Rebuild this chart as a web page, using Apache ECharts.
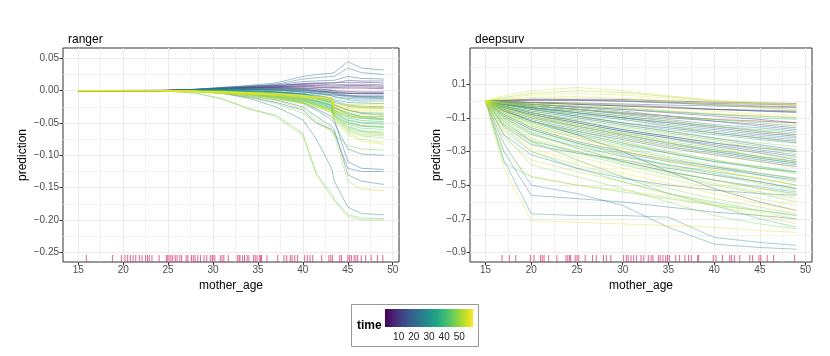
<!DOCTYPE html>
<html>
<head>
<meta charset="utf-8">
<script src="https://cdn.jsdelivr.net/npm/echarts@6/dist/echarts.min.js"></script>
<style>
  html, body { margin: 0; padding: 0; background: #fff; }
  #chart { width: 830px; height: 356px; }
</style>
</head>
<body>
<div id="chart"></div>
<script>
// grid of mother_age values where the ICE curves were evaluated
var rangerAge = [15, 24, 28, 31, 34, 37, 40, 41.5, 43.2, 43.5, 45, 46.5, 49];
var deepsurvAge = [15, 17, 20, 25, 30, 35, 40, 45, 49];

// each row: [time, prediction at each age above]
var rangerCurves = [
  [3, 0, 0, 0.002, 0.004, 0.005, 0.006, 0.008, 0.008, 0.007, 0.007, 0.008, 0.008, 0.007],
  [4, 0, 0, 0.001, 0.003, 0.004, 0.005, 0.006, 0.005, 0.004, 0.004, 0.004, 0.004, 0.003],
  [5, 0, 0, 0.001, 0.002, 0.003, 0.003, 0.002, 0.0, -0.002, -0.003, -0.004, -0.004, -0.004],
  [6, 0, 0, 0.001, 0.003, 0.004, 0.004, 0.004, 0.003, 0.001, 0.0, -0.001, -0.002, -0.002],
  [8, 0, 0, 0.002, 0.004, 0.006, 0.008, 0.011, 0.012, 0.012, 0.012, 0.013, 0.013, 0.012],
  [9, 0, 0, 0.001, 0.003, 0.005, 0.006, 0.007, 0.006, 0.005, 0.005, 0.006, 0.006, 0.005],
  [10, 0, 0, 0.001, 0.002, 0.002, 0.002, 0.001, -0.001, -0.002, -0.003, -0.004, -0.004, -0.004],
  [12, 0, 0.001, 0.002, 0.005, 0.007, 0.008, 0.01, 0.01, 0.009, 0.009, 0.01, 0.01, 0.009],
  [14, 0, 0, 0.001, 0.002, 0.002, 0.001, -0.002, -0.004, -0.006, -0.007, -0.008, -0.009, -0.009],
  [15, 0, 0, 0.001, 0.003, 0.005, 0.007, 0.01, 0.011, 0.012, 0.012, 0.016, 0.015, 0.015],
  [16, 0, 0, 0.001, 0.004, 0.005, 0.005, 0.004, 0.002, 0.0, -0.001, -0.004, -0.005, -0.005],
  [18, 0, 0, 0.001, 0.003, 0.006, 0.009, 0.014, 0.015, 0.016, 0.016, 0.022, 0.019, 0.018],
  [19, 0, 0, 0.001, 0.003, 0.004, 0.004, 0.003, 0.0, -0.003, -0.004, -0.007, -0.008, -0.008],
  [20, 0, 0, 0.001, 0.002, 0.002, 0.001, 0.0, -0.002, -0.004, -0.005, -0.008, -0.01, -0.011],
  [20, 0, 0, 0, -0.002, -0.005, -0.01, -0.018, -0.028, -0.04, -0.045, -0.11, -0.12, -0.122],
  [22, 0, 0, 0.002, 0.005, 0.008, 0.012, 0.022, 0.025, 0.027, 0.028, 0.045, 0.035, 0.032],
  [22, 0, 0, -0.001, -0.004, -0.01, -0.018, -0.03, -0.05, -0.06, -0.065, -0.12, -0.125, -0.125],
  [24, 0, 0, 0.002, 0.004, 0.007, 0.01, 0.018, 0.02, 0.022, 0.022, 0.035, 0.028, 0.025],
  [24, 0, 0, -0.001, -0.003, -0.008, -0.014, -0.025, -0.04, -0.055, -0.06, -0.13, -0.14, -0.145],
  [25, 0, 0, 0.0, 0.0, -0.001, -0.002, -0.005, -0.01, -0.015, -0.022, -0.03, -0.035, -0.038],
  [26, 0, 0, 0.001, 0.002, 0.001, 0.0, -0.002, -0.005, -0.007, -0.009, -0.012, -0.013, -0.013],
  [26, 0, 0, -0.001, -0.004, -0.012, -0.025, -0.045, -0.075, -0.12, -0.14, -0.18, -0.19, -0.192],
  [27, 0, 0, 0.001, 0.002, 0.002, 0.001, -0.001, -0.004, -0.008, -0.01, -0.014, -0.016, -0.016],
  [28, 0, 0, 0.001, 0.001, 0.0, -0.002, -0.004, -0.007, -0.011, -0.014, -0.018, -0.019, -0.02],
  [28, 0, 0, 0, -0.002, -0.006, -0.012, -0.02, -0.03, -0.045, -0.05, -0.09, -0.098, -0.1],
  [30, 0, 0, 0.0, 0.001, 0.0, -0.002, -0.005, -0.009, -0.013, -0.018, -0.024, -0.026, -0.027],
  [31, 0, 0, 0.001, 0.003, 0.004, 0.003, 0.001, -0.002, -0.004, -0.006, -0.01, -0.011, -0.012],
  [32, 0, 0, 0.0, 0.0, -0.001, -0.003, -0.006, -0.011, -0.015, -0.022, -0.03, -0.034, -0.035],
  [33, 0, 0, 0, 0.001, 0.0, -0.002, -0.005, -0.008, -0.012, -0.016, -0.022, -0.024, -0.025],
  [34, 0, 0, 0.0, 0.0, -0.001, -0.003, -0.007, -0.012, -0.017, -0.025, -0.036, -0.04, -0.04],
  [36, 0, 0, 0.0, 0.0, -0.002, -0.004, -0.009, -0.013, -0.019, -0.027, -0.034, -0.04, -0.043],
  [37, 0, 0, 0, 0, -0.001, -0.003, -0.008, -0.012, -0.018, -0.026, -0.038, -0.042, -0.044],
  [38, 0, 0, 0.0, -0.001, -0.002, -0.005, -0.01, -0.015, -0.022, -0.03, -0.042, -0.046, -0.048],
  [39, 0, 0, -0.001, -0.002, -0.003, -0.006, -0.011, -0.016, -0.023, -0.032, -0.048, -0.054, -0.056],
  [40, 0, 0, 0.0, -0.001, -0.003, -0.006, -0.012, -0.017, -0.024, -0.034, -0.046, -0.05, -0.052],
  [41, 0, 0, 0, -0.001, -0.003, -0.006, -0.012, -0.016, -0.022, -0.03, -0.04, -0.043, -0.045],
  [42, 0, 0, -0.001, -0.002, -0.004, -0.008, -0.014, -0.019, -0.026, -0.036, -0.05, -0.055, -0.057],
  [43, 0, 0, 0, -0.001, -0.003, -0.007, -0.013, -0.018, -0.025, -0.033, -0.045, -0.049, -0.05],
  [44, 0, 0, -0.001, -0.002, -0.004, -0.008, -0.015, -0.021, -0.028, -0.038, -0.052, -0.058, -0.06],
  [45, 0, 0, -0.004, -0.013, -0.028, -0.038, -0.066, -0.128, -0.16, -0.168, -0.192, -0.197, -0.198],
  [45, 0, 0, -0.001, -0.002, -0.004, -0.008, -0.014, -0.02, -0.027, -0.036, -0.056, -0.063, -0.066],
  [46, 0, 0, -0.001, -0.003, -0.005, -0.009, -0.016, -0.022, -0.03, -0.04, -0.055, -0.062, -0.064],
  [47, 0, 0, -0.001, -0.004, -0.01, -0.02, -0.035, -0.05, -0.062, -0.068, -0.085, -0.09, -0.092],
  [48, 0, 0, -0.001, -0.003, -0.006, -0.01, -0.017, -0.023, -0.031, -0.042, -0.058, -0.065, -0.068],
  [49, 0, 0, -0.001, -0.003, -0.005, -0.009, -0.015, -0.021, -0.029, -0.039, -0.062, -0.07, -0.073],
  [50, 0, 0, -0.001, -0.003, -0.006, -0.011, -0.018, -0.024, -0.032, -0.043, -0.06, -0.068, -0.07],
  [50, 0, 0, -0.003, -0.012, -0.028, -0.04, -0.07, -0.13, -0.165, -0.17, -0.195, -0.2, -0.2],
  [51, 0, 0, -0.001, -0.003, -0.006, -0.01, -0.016, -0.022, -0.03, -0.04, -0.05, -0.054, -0.055],
  [52, 0, 0, -0.002, -0.004, -0.007, -0.012, -0.019, -0.025, -0.033, -0.045, -0.065, -0.075, -0.08],
  [52, 0, 0, -0.001, -0.004, -0.01, -0.015, -0.028, -0.045, -0.06, -0.07, -0.14, -0.152, -0.155],
  [53, 0, 0, -0.001, -0.002, -0.004, -0.008, -0.012, -0.015, -0.02, -0.03, -0.04, -0.042, -0.043],
  [54, 0, 0, -0.002, -0.004, -0.007, -0.012, -0.02, -0.026, -0.034, -0.046, -0.068, -0.078, -0.083],
  [55, 0, 0, -0.001, -0.003, -0.005, -0.007, -0.01, -0.012, -0.014, -0.032, -0.036, -0.037, -0.037],
  [56, 0, 0, -0.001, -0.002, -0.004, -0.006, -0.009, -0.011, -0.013, -0.03, -0.033, -0.033, -0.033],
  [56, 0, 0, 0, -0.001, -0.003, -0.005, -0.008, -0.01, -0.012, -0.02, -0.022, -0.021, -0.02],
  [57, 0, 0, -0.001, -0.002, -0.003, -0.005, -0.008, -0.01, -0.012, -0.026, -0.028, -0.028, -0.027],
  [57, 0, 0, -0.001, -0.002, -0.004, -0.006, -0.009, -0.011, -0.013, -0.028, -0.031, -0.03, -0.03],
  [58, 0, 0, -0.001, -0.002, -0.003, -0.004, -0.007, -0.009, -0.011, -0.022, -0.024, -0.024, -0.023],
  [58, 0, 0, -0.001, -0.003, -0.005, -0.007, -0.011, -0.013, -0.015, -0.034, -0.039, -0.04, -0.04],
  [59, 0, 0, -0.001, -0.002, -0.003, -0.005, -0.008, -0.01, -0.012, -0.024, -0.026, -0.026, -0.025]
];

var deepsurvCurves = [
  [2, 0, -0.005, -0.01, -0.02, -0.03, -0.04, -0.05, -0.06, -0.065],
  [3, 0, 0.005, 0.01, 0.01, 0.008, 0.0, -0.008, -0.012, -0.015],
  [5, 0, -0.01, -0.03, -0.05, -0.07, -0.09, -0.11, -0.12, -0.13],
  [6, 0, 0.0, 0.005, 0.005, 0.0, -0.008, -0.015, -0.02, -0.025],
  [7, 0, -0.02, -0.05, -0.09, -0.13, -0.16, -0.19, -0.22, -0.24],
  [8, 0, -0.01, -0.02, -0.035, -0.05, -0.07, -0.09, -0.11, -0.13],
  [9, 0, -0.02, -0.04, -0.07, -0.1, -0.13, -0.16, -0.19, -0.21],
  [10, 0, 0.002, 0.005, 0.003, -0.002, -0.012, -0.022, -0.03, -0.035],
  [11, 0, -0.005, -0.01, -0.02, -0.03, -0.04, -0.05, -0.055, -0.06],
  [12, 0, -0.015, -0.03, -0.05, -0.075, -0.1, -0.12, -0.14, -0.16],
  [12, 0, -0.03, -0.07, -0.12, -0.17, -0.21, -0.25, -0.28, -0.3],
  [13, 0, -0.003, -0.008, -0.012, -0.018, -0.025, -0.03, -0.035, -0.04],
  [14, 0, -0.04, -0.09, -0.15, -0.2, -0.25, -0.29, -0.33, -0.36],
  [15, 0, -0.04, -0.08, -0.13, -0.18, -0.22, -0.26, -0.3, -0.33],
  [16, 0, -0.02, -0.04, -0.06, -0.09, -0.12, -0.15, -0.18, -0.2],
  [17, 0, -0.06, -0.12, -0.18, -0.23, -0.28, -0.32, -0.36, -0.39],
  [18, 0, -0.03, -0.06, -0.1, -0.14, -0.18, -0.22, -0.26, -0.29],
  [18, 0, -0.05, -0.12, -0.2, -0.3, -0.42, -0.52, -0.6, -0.65],
  [19, 0, -0.08, -0.16, -0.24, -0.3, -0.35, -0.39, -0.43, -0.46],
  [20, 0, -0.005, -0.01, -0.015, -0.025, -0.035, -0.05, -0.06, -0.07],
  [20, 0, -0.15, -0.26, -0.31, -0.35, -0.4, -0.44, -0.48, -0.52],
  [21, 0, -0.01, -0.02, -0.04, -0.06, -0.09, -0.12, -0.15, -0.17],
  [22, 0, -0.06, -0.11, -0.17, -0.22, -0.27, -0.31, -0.35, -0.38],
  [22, 0, -0.3, -0.56, -0.58, -0.6, -0.63, -0.66, -0.68, -0.7],
  [23, 0, -0.04, -0.08, -0.13, -0.18, -0.22, -0.27, -0.31, -0.35],
  [24, 0, -0.2, -0.32, -0.4, -0.46, -0.5, -0.53, -0.55, -0.56],
  [25, 0, -0.02, -0.04, -0.07, -0.1, -0.14, -0.17, -0.2, -0.22],
  [26, 0, -0.09, -0.17, -0.25, -0.31, -0.36, -0.4, -0.44, -0.47],
  [27, 0, -0.015, -0.03, -0.05, -0.08, -0.11, -0.14, -0.16, -0.18],
  [28, 0, -0.035, -0.07, -0.12, -0.17, -0.21, -0.25, -0.29, -0.32],
  [28, 0, -0.25, -0.5, -0.55, -0.62, -0.75, -0.85, -0.87, -0.88],
  [29, 0, -0.05, -0.1, -0.16, -0.21, -0.26, -0.3, -0.34, -0.37],
  [30, 0, -0.01, -0.02, -0.035, -0.05, -0.065, -0.08, -0.09, -0.1],
  [30, 0, -0.35, -0.67, -0.68, -0.68, -0.69, -0.81, -0.84, -0.857],
  [31, 0, -0.02, -0.045, -0.08, -0.11, -0.15, -0.18, -0.21, -0.23],
  [32, 0, -0.07, -0.13, -0.2, -0.26, -0.31, -0.36, -0.4, -0.42],
  [33, 0, -0.1, -0.19, -0.28, -0.36, -0.42, -0.47, -0.51, -0.54],
  [34, 0, -0.06, -0.12, -0.19, -0.25, -0.31, -0.36, -0.39, -0.42],
  [35, 0, -0.025, -0.05, -0.09, -0.13, -0.17, -0.2, -0.23, -0.25],
  [35, 0, -0.14, -0.24, -0.3, -0.36, -0.42, -0.47, -0.52, -0.55],
  [36, 0, -0.11, -0.2, -0.27, -0.33, -0.38, -0.42, -0.46, -0.5],
  [37, 0, -0.01, -0.03, -0.05, -0.07, -0.09, -0.11, -0.13, -0.15],
  [38, 0, -0.05, -0.1, -0.15, -0.2, -0.25, -0.3, -0.34, -0.37],
  [39, 0, -0.03, -0.07, -0.11, -0.15, -0.19, -0.23, -0.27, -0.3],
  [40, 0, -0.02, -0.04, -0.07, -0.1, -0.13, -0.15, -0.17, -0.19],
  [40, 0, -0.12, -0.24, -0.35, -0.45, -0.55, -0.62, -0.7, -0.75],
  [41, 0, -0.09, -0.17, -0.25, -0.32, -0.38, -0.43, -0.48, -0.52],
  [42, 0, -0.08, -0.15, -0.22, -0.28, -0.34, -0.39, -0.44, -0.48],
  [43, 0, -0.01, -0.02, -0.03, -0.04, -0.06, -0.08, -0.1, -0.11],
  [44, 0, -0.04, -0.08, -0.14, -0.19, -0.24, -0.28, -0.33, -0.36],
  [44, 0, -0.16, -0.3, -0.4, -0.48, -0.55, -0.6, -0.65, -0.68],
  [45, 0, 0.0, 0.005, 0.005, 0.0, -0.01, -0.025, -0.04, -0.05],
  [45, 0, -0.37, -0.45, -0.5, -0.54, -0.58, -0.62, -0.65, -0.68],
  [46, 0, -0.06, -0.12, -0.18, -0.24, -0.3, -0.35, -0.4, -0.43],
  [47, 0, -0.02, -0.05, -0.08, -0.11, -0.15, -0.19, -0.22, -0.25],
  [47, 0, -0.13, -0.23, -0.31, -0.38, -0.44, -0.5, -0.55, -0.6],
  [48, 0, -0.03, -0.06, -0.1, -0.14, -0.18, -0.22, -0.25, -0.27],
  [48, 0, -0.2, -0.38, -0.45, -0.52, -0.6, -0.68, -0.73, -0.76],
  [49, 0, -0.1, -0.18, -0.26, -0.33, -0.39, -0.44, -0.49, -0.53],
  [49, 0, -0.045, -0.09, -0.14, -0.19, -0.23, -0.27, -0.31, -0.34],
  [50, 0, 0.02, 0.045, 0.06, 0.05, 0.025, 0.0, -0.015, -0.025],
  [50, 0, -0.18, -0.3, -0.38, -0.45, -0.52, -0.58, -0.63, -0.67],
  [51, 0, -0.07, -0.14, -0.21, -0.27, -0.33, -0.38, -0.43, -0.46],
  [51, 0, -0.015, -0.03, -0.06, -0.09, -0.12, -0.15, -0.18, -0.2],
  [52, 0, -0.12, -0.22, -0.3, -0.37, -0.43, -0.49, -0.54, -0.58],
  [52, 0, -0.06, -0.12, -0.19, -0.25, -0.3, -0.35, -0.39, -0.43],
  [53, 0, -0.03, -0.07, -0.12, -0.16, -0.2, -0.24, -0.28, -0.31],
  [53, 0, -0.22, -0.35, -0.42, -0.48, -0.55, -0.61, -0.66, -0.7],
  [54, 0, -0.08, -0.16, -0.24, -0.3, -0.36, -0.41, -0.46, -0.5],
  [54, 0, 0.01, 0.02, 0.025, 0.015, 0.0, -0.02, -0.04, -0.06],
  [55, 0, 0.03, 0.06, 0.08, 0.06, 0.03, 0.005, -0.01, -0.02],
  [55, 0, -0.14, -0.25, -0.33, -0.4, -0.46, -0.52, -0.58, -0.62],
  [55, 0, -0.3, -0.45, -0.5, -0.53, -0.57, -0.62, -0.68, -0.73],
  [56, 0, -0.01, -0.02, -0.03, -0.045, -0.06, -0.075, -0.09, -0.1],
  [56, 0, -0.05, -0.1, -0.16, -0.22, -0.27, -0.32, -0.36, -0.4],
  [56, 0, -0.4, -0.71, -0.72, -0.73, -0.74, -0.75, -0.77, -0.78],
  [57, 0, 0.015, 0.035, 0.045, 0.035, 0.015, -0.005, -0.02, -0.03],
  [57, 0, -0.1, -0.2, -0.28, -0.35, -0.41, -0.47, -0.52, -0.56],
  [57, 0, -0.04, -0.09, -0.15, -0.2, -0.25, -0.29, -0.33, -0.36],
  [58, 0, -0.015, -0.03, -0.05, -0.07, -0.09, -0.11, -0.125, -0.14],
  [58, 0, -0.16, -0.28, -0.36, -0.43, -0.49, -0.55, -0.61, -0.65],
  [58, 0, -0.005, -0.01, -0.015, -0.025, -0.04, -0.06, -0.08, -0.09],
  [59, 0, -0.07, -0.14, -0.22, -0.29, -0.35, -0.41, -0.46, -0.5]
];

// observed mother_age values (rug)
var rangerRug = [15.9, 18.8, 19.8, 20.2, 20.5, 20.8, 21.1, 21.4, 21.8, 22.1, 22.5, 22.7, 22.9, 23.2, 24.0,
  24.8, 24.9, 25.1, 25.3, 25.5, 25.8, 26.0, 26.3, 26.5, 27.0, 27.2, 27.6, 27.8, 28.0, 28.3, 28.6, 29.0,
  29.3, 29.7, 29.9, 30.0, 30.2, 30.8, 31.0, 31.2, 31.7, 32.7, 32.9, 33.0, 33.3, 33.5, 33.8, 34.0, 34.5,
  34.7, 34.9, 35.2, 35.3, 35.4, 36.0, 37.2, 37.9, 38.2, 38.6, 38.8, 39.1, 39.4, 40.2, 40.5, 40.8, 41.1,
  42.1, 42.9, 43.1, 43.3, 44.1, 44.3, 45.0, 45.2, 45.4, 45.7, 45.9, 46.1, 46.5, 47.0, 47.6, 48.3, 48.9];
var deepsurvRug = [16.8, 17.6, 18.3, 19.9, 20.3, 21.0, 21.2, 21.4, 21.9, 22.8, 23.8, 24.0, 24.2, 24.3, 24.8,
  25.0, 25.2, 25.9, 26.7, 27.1, 27.9, 28.2, 28.7, 30.1, 30.4, 30.6, 30.9, 31.2, 31.5, 32.0, 32.3, 32.8,
  33.1, 33.3, 33.9, 34.1, 34.4, 34.7, 34.9, 35.1, 35.8, 36.2, 36.8, 37.2, 37.5, 38.2, 38.3, 39.9, 40.2,
  40.9, 41.7, 41.9, 42.2, 42.8, 43.9, 44.2, 44.9, 45.1, 45.8, 46.5, 48.8];

var ageTicks = [15, 20, 25, 30, 35, 40, 45, 50];
var ageMinor = [17.5, 22.5, 27.5, 32.5, 37.5, 42.5, 47.5];
var rangerTicks = [0.05, 0, -0.05, -0.1, -0.15, -0.2, -0.25];
var rangerMinor = [0.025, -0.025, -0.075, -0.125, -0.175, -0.225];
var deepsurvTicks = [0.1, -0.1, -0.3, -0.5, -0.7, -0.9];
var deepsurvMinor = [0.2, 0, -0.2, -0.4, -0.6, -0.8];
var timeTicks = [10, 20, 30, 40, 50];
var timeRange = [1, 59];

var viridisStops = ['#440154', '#482475', '#414487', '#355f8d', '#2a788e', '#21918c',
  '#22a884', '#44bf70', '#7ad151', '#bddf26', '#fde725'];

function hexRgb(h) {
  return [parseInt(h.substr(1, 2), 16), parseInt(h.substr(3, 2), 16), parseInt(h.substr(5, 2), 16)];
}
function viridis(t) {
  var f = (t - timeRange[0]) / (timeRange[1] - timeRange[0]);
  f = Math.max(0, Math.min(1, f));
  var n = viridisStops.length - 1;
  var i = Math.min(Math.floor(f * n), n - 1), r = f * n - i;
  var a = hexRgb(viridisStops[i]), b = hexRgb(viridisStops[i + 1]);
  return 'rgb(' + [0, 1, 2].map(function (k) { return Math.round(a[k] + (b[k] - a[k]) * r); }).join(',') + ')';
}
function minusFmt(d) {
  return function (v) { return (v < -1e-9 ? '\u2212' : '') + Math.abs(v).toFixed(d); };
}

var FONT = 'Liberation Sans';
var tickColor = '#333333';

function majorX(grid, name) {
  return {
    type: 'value', gridIndex: grid, min: 13.3, max: 50.7, position: 'bottom',
    name: name, nameLocation: 'middle', nameGap: 16,
    nameTextStyle: { fontFamily: FONT, fontSize: 12, color: '#000' },
    axisLine: { show: false, onZero: false },
    axisTick: { show: true, length: 3.5, lineStyle: { color: tickColor, width: 1 }, customValues: ageTicks },
    axisLabel: { fontFamily: FONT, fontSize: 10, color: '#4D4D4D', margin: 3, customValues: ageTicks },
    splitLine: { show: true, lineStyle: { color: '#EBEBEB', width: 1 } }
  };
}
function minorX(grid) {
  return {
    type: 'value', gridIndex: grid, min: 13.3, max: 50.7, position: 'top',
    axisLine: { show: false, onZero: false }, axisLabel: { show: false },
    axisTick: { show: false, customValues: ageMinor },
    splitLine: { show: true, lineStyle: { color: '#EDEDED', width: 0.7 } }
  };
}
function majorY(grid, min, max, ticks, dec, gap) {
  return {
    type: 'value', gridIndex: grid, min: min, max: max, position: 'left',
    name: 'prediction', nameLocation: 'middle', nameGap: gap,
    nameTextStyle: { fontFamily: FONT, fontSize: 12, color: '#000' },
    axisLine: { show: false, onZero: false },
    axisTick: { show: true, length: 3.5, lineStyle: { color: tickColor, width: 1 }, customValues: ticks },
    axisLabel: { fontFamily: FONT, fontSize: 10, color: '#4D4D4D', margin: 4, customValues: ticks, formatter: minusFmt(dec) },
    splitLine: { show: true, lineStyle: { color: '#EBEBEB', width: 1 } }
  };
}
function minorY(grid, min, max, ticks) {
  return {
    type: 'value', gridIndex: grid, min: min, max: max, position: 'right',
    axisLine: { show: false, onZero: false }, axisLabel: { show: false },
    axisTick: { show: false, customValues: ticks },
    splitLine: { show: true, lineStyle: { color: '#EDEDED', width: 0.7 } }
  };
}

// draw low times first so the yellow curves end up on top
function byTime(curves) {
  return curves.slice().sort(function (a, b) { return a[0] - b[0]; });
}
function curveSeries(ages, curves, axisIdx, opacity) {
  return byTime(curves).map(function (c) {
    return {
      type: 'line', xAxisIndex: axisIdx, yAxisIndex: axisIdx,
      data: ages.map(function (a, i) { return [a, c[i + 1]]; }),
      symbol: 'none', silent: true, animation: false, z: 2,
      lineStyle: { width: 0.9, color: viridis(c[0]), opacity: opacity }
    };
  });
}
function rugSeries(ages, axisIdx, yMin) {
  return {
    type: 'scatter', xAxisIndex: axisIdx, yAxisIndex: axisIdx,
    data: ages.map(function (a) { return [a, yMin]; }),
    symbol: 'rect', symbolSize: [1, 7], symbolOffset: [0, -3.5],
    itemStyle: { color: '#D6407E', opacity: 0.8 }, silent: true, animation: false, clip: false, z: 3
  };
}

var rMin = -0.265, rMax = 0.066, dMin = -0.956, dMax = 0.314;

var gradStops = viridisStops.map(function (c, i) { return { offset: i / (viridisStops.length - 1), color: c }; });

var series = []
  .concat(curveSeries(rangerAge, rangerCurves, 0, 0.5))
  .concat([rugSeries(rangerRug, 0, rMin)])
  .concat(curveSeries(deepsurvAge, deepsurvCurves, 2, 0.45))
  .concat([rugSeries(deepsurvRug, 2, dMin)])
  .concat([{
    type: 'custom', xAxisIndex: 4, yAxisIndex: 4, silent: true, animation: false, z: 1,
    data: [[timeRange[0], timeRange[1]]],
    renderItem: function (params, api) {
      var p0 = api.coord([api.value(0), 0]);
      var p1 = api.coord([api.value(1), 1]);
      return {
        type: 'rect',
        shape: { x: p0[0], y: p1[1], width: p1[0] - p0[0], height: p0[1] - p1[1] },
        style: { fill: new echarts.graphic.LinearGradient(0, 0, 1, 0, gradStops) }
      };
    }
  }]);

var chart = echarts.init(document.getElementById('chart'), null, { renderer: 'canvas' });
chart.setOption({
  animation: false,
  backgroundColor: '#fff',
  title: [
    { text: 'ranger', left: 63, top: 29, textStyle: { fontFamily: FONT, fontSize: 12, fontWeight: 'normal', color: '#000' } },
    { text: 'deepsurv', left: 470, top: 29, textStyle: { fontFamily: FONT, fontSize: 12, fontWeight: 'normal', color: '#000' } }
  ],
  grid: [
    { left: 63, top: 48, width: 336, height: 214, show: true, borderColor: '#333', borderWidth: 1, backgroundColor: '#fff' },
    { left: 470, top: 48, width: 342, height: 214, show: true, borderColor: '#333', borderWidth: 1, backgroundColor: '#fff' },
    { left: 385, top: 309, width: 88, height: 18, show: false }
  ],
  xAxis: [
    majorX(0, 'mother_age'), minorX(0),
    majorX(1, 'mother_age'), minorX(1),
    {
      type: 'value', gridIndex: 2, min: timeRange[0], max: timeRange[1], position: 'bottom',
      axisLine: { show: false, onZero: false },
      axisTick: { show: true, inside: true, length: 3, lineStyle: { color: '#fff', width: 1 }, customValues: timeTicks },
      axisLabel: { fontFamily: FONT, fontSize: 10, color: '#1a1a1a', margin: 5, customValues: timeTicks },
      splitLine: { show: false }
    },
    {
      type: 'value', gridIndex: 2, min: timeRange[0], max: timeRange[1], position: 'top',
      axisLine: { show: false, onZero: false }, axisLabel: { show: false },
      axisTick: { show: true, inside: true, length: 3, lineStyle: { color: '#fff', width: 1 }, customValues: timeTicks },
      splitLine: { show: false }
    }
  ],
  yAxis: [
    majorY(0, rMin, rMax, rangerTicks, 2, 34), minorY(0, rMin, rMax, rangerMinor),
    majorY(1, dMin, dMax, deepsurvTicks, 1, 27), minorY(1, dMin, dMax, deepsurvMinor),
    { type: 'value', gridIndex: 2, min: 0, max: 1, show: false }
  ],
  graphic: [
    { type: 'rect', shape: { x: 351.5, y: 304.5, width: 127, height: 42 }, style: { fill: 'none', stroke: '#999', lineWidth: 1 }, z: 0 },
    { type: 'text', left: 357, top: 320, style: { text: 'time', fontFamily: FONT, fontSize: 12, fontWeight: 'bold', fill: '#000' } }
  ],
  series: series
});
</script>
</body>
</html>
